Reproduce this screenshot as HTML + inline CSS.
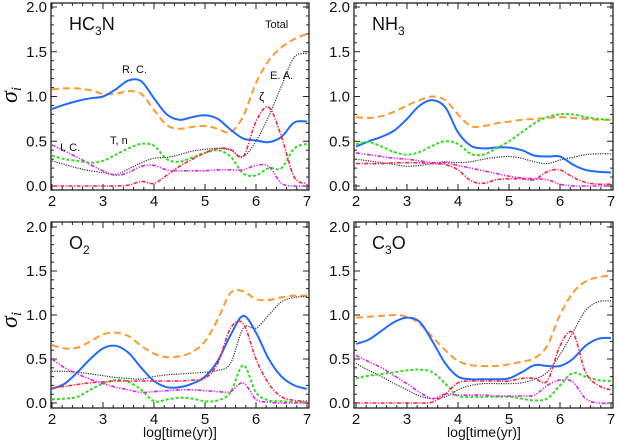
<!DOCTYPE html>
<html><head><meta charset="utf-8"><style>
html,body{margin:0;padding:0;background:#fff;}
svg{display:block;font-family:"Liberation Sans",sans-serif;}
</style></head><body>
<svg id="c" width="618" height="447" viewBox="0 0 618 447" xmlns="http://www.w3.org/2000/svg"></svg>
<script>
const xs = [2,2.25,2.5,2.75,3,3.25,3.5,3.75,4,4.25,4.5,4.75,5,5.25,5.5,5.75,6,6.25,6.5,6.75,7];
const xTicks = [2,3,4,5,6,7];
const yTicks = [0.0,0.5,1.0,1.5,2.0];
const hc3nTotal=[1.08,1.09,1.09,1.07,1.03,1.03,1.06,1.03,0.85,0.68,0.64,0.66,0.67,0.64,0.60,0.78,1.15,1.40,1.55,1.64,1.70];
const hc3nRC=[0.86,0.91,0.95,0.98,1.0,1.08,1.18,1.17,0.98,0.80,0.74,0.77,0.79,0.75,0.63,0.53,0.51,0.49,0.55,0.71,0.72];
const hc3nEA=[0.28,0.24,0.20,0.17,0.15,0.13,0.19,0.26,0.31,0.32,0.35,0.39,0.41,0.42,0.40,0.33,0.50,0.78,1.12,1.44,1.48];
const hc3nZeta=[0,0,0,0,0,0,0.01,0.05,0.03,0.12,0.22,0.30,0.37,0.42,0.41,0.33,0.72,0.88,0.55,0.10,0.03];
const hc3nTn=[0.34,0.30,0.28,0.26,0.28,0.35,0.42,0.47,0.45,0.30,0.27,0.32,0.37,0.40,0.33,0.14,0.12,0.20,0.20,0.42,0.47];
const hc3nIC=[0.46,0.39,0.32,0.24,0.17,0.12,0.15,0.22,0.23,0.18,0.17,0.17,0.17,0.18,0.18,0.18,0.23,0.22,0.03,0.0,0.0];
const nh3Total=[0.77,0.76,0.78,0.83,0.90,0.96,1.00,0.96,0.80,0.67,0.67,0.70,0.72,0.74,0.75,0.76,0.77,0.76,0.75,0.74,0.74];
const nh3RC=[0.44,0.50,0.55,0.62,0.75,0.90,0.96,0.88,0.60,0.45,0.42,0.43,0.43,0.40,0.34,0.33,0.33,0.24,0.18,0.16,0.15];
const nh3EA=[0.30,0.28,0.26,0.24,0.22,0.23,0.25,0.27,0.26,0.27,0.30,0.32,0.33,0.31,0.27,0.25,0.29,0.32,0.35,0.36,0.36];
const nh3Zeta=[0.25,0.25,0.25,0.26,0.26,0.26,0.25,0.24,0.18,0.06,0.03,0.07,0.08,0.08,0.07,0.16,0.18,0.10,0.04,0.02,0.02];
const nh3Tn=[0.47,0.49,0.44,0.38,0.35,0.38,0.45,0.50,0.47,0.36,0.35,0.42,0.50,0.60,0.70,0.77,0.80,0.80,0.77,0.75,0.74];
const nh3IC=[0.37,0.35,0.33,0.31,0.30,0.28,0.26,0.26,0.23,0.20,0.17,0.14,0.11,0.09,0.08,0.07,0.02,0.0,0.0,0.0,0.0];
const o2Total=[0.66,0.62,0.63,0.70,0.78,0.80,0.76,0.65,0.56,0.52,0.53,0.58,0.70,0.95,1.25,1.27,1.18,1.17,1.20,1.22,1.22];
const o2RC=[0.16,0.22,0.35,0.50,0.62,0.65,0.57,0.40,0.25,0.18,0.18,0.22,0.30,0.48,0.77,0.99,0.80,0.50,0.30,0.20,0.16];
const o2EA=[0.36,0.36,0.35,0.33,0.31,0.29,0.28,0.27,0.30,0.32,0.33,0.34,0.35,0.37,0.45,0.85,0.85,1.00,1.15,1.20,1.21];
const o2Zeta=[0.17,0.19,0.21,0.23,0.24,0.25,0.25,0.25,0.25,0.25,0.25,0.26,0.28,0.45,0.85,0.90,0.50,0.22,0.07,0.03,0.02];
const o2Tn=[0.04,0.05,0.07,0.15,0.22,0.26,0.24,0.15,0.02,0.04,0.06,0.05,0.02,0.03,0.12,0.43,0.12,0.03,0.02,0.01,0.01];
const o2IC=[0.50,0.40,0.33,0.27,0.22,0.18,0.15,0.12,0.13,0.14,0.15,0.15,0.14,0.13,0.13,0.23,0.04,0.01,0.0,0.0,0.0];
const c3oTotal=[0.97,0.98,0.99,1.00,0.98,0.90,0.75,0.60,0.48,0.43,0.42,0.42,0.44,0.47,0.51,0.65,1.00,1.25,1.38,1.43,1.45];
const c3oRC=[0.67,0.72,0.82,0.92,0.97,0.92,0.70,0.45,0.30,0.27,0.27,0.27,0.28,0.35,0.43,0.42,0.42,0.50,0.65,0.73,0.74];
const c3oEA=[0.45,0.37,0.30,0.22,0.15,0.08,0.05,0.07,0.15,0.20,0.22,0.22,0.22,0.23,0.27,0.35,0.55,0.80,1.05,1.15,1.16];
const c3oZeta=[0,0,0,0,0,0,0.01,0.10,0.23,0.25,0.25,0.25,0.25,0.28,0.28,0.25,0.65,0.80,0.35,0.20,0.15];
const c3oTn=[0.28,0.31,0.33,0.35,0.37,0.38,0.35,0.22,0.08,0.07,0.07,0.07,0.07,0.05,0.03,0.05,0.20,0.34,0.30,0.26,0.25];
const c3oIC=[0.54,0.47,0.40,0.31,0.22,0.12,0.05,0.10,0.09,0.09,0.09,0.08,0.08,0.08,0.09,0.20,0.26,0.24,0.05,0.0,0.0];

const NS="http://www.w3.org/2000/svg";
const svg=document.getElementById('c');
function mk(tag,attrs,parent){const e=document.createElementNS(NS,tag);for(const k in attrs)e.setAttribute(k,attrs[k]);(parent||svg).appendChild(e);return e;}
const styles={
 total:{stroke:'#ff9a2e',w:2,dash:'7,4'},
 rc:{stroke:'#1f6bff',w:2,dash:''},
 ea:{stroke:'#333',w:1.2,dash:'1.2,1.2'},
 zeta:{stroke:'#ff2244',w:1.6,dash:'4,1.5,1.2,1.5'},
 tn:{stroke:'#33dd22',w:2,dash:'3,2'},
 ic:{stroke:'#dd22ee',w:1.6,dash:'4,1.5,1.2,1.5,1.2,1.5'}
};
const panels=[
 {name:'hc3n',label:'HC',sub:'3',tail:'N',x0:51,x1:309,ytop:3,ybot:190,y2:7,y0:186,xl:true,series:{total:hc3nTotal,rc:hc3nRC,ea:hc3nEA,zeta:hc3nZeta,tn:hc3nTn,ic:hc3nIC}},
 {name:'nh3',label:'NH',sub:'3',tail:'',x0:354,x1:613,ytop:3,ybot:190,y2:7,y0:186,xl:false,series:{total:nh3Total,rc:nh3RC,ea:nh3EA,zeta:nh3Zeta,tn:nh3Tn,ic:nh3IC}},
 {name:'o2',label:'O',sub:'2',tail:'',x0:51,x1:309,ytop:222,ybot:408,y2:227,y0:403,xl:true,series:{total:o2Total,rc:o2RC,ea:o2EA,zeta:o2Zeta,tn:o2Tn,ic:o2IC}},
 {name:'c3o',label:'C',sub:'3',tail:'O',x0:354,x1:613,ytop:222,ybot:408,y2:227,y0:403,xl:false,series:{total:c3oTotal,rc:c3oRC,ea:c3oEA,zeta:c3oZeta,tn:c3oTn,ic:c3oIC}}
];
function pathFrom(pts){let d='M'+pts[0][0].toFixed(1)+','+pts[0][1].toFixed(1);
 for(let i=0;i<pts.length-1;i++){const p0=pts[Math.max(0,i-1)],p1=pts[i],p2=pts[i+1],p3=pts[Math.min(pts.length-1,i+2)];
  const c1=[p1[0]+(p2[0]-p0[0])/6,p1[1]+(p2[1]-p0[1])/6],c2=[p2[0]-(p3[0]-p1[0])/6,p2[1]-(p3[1]-p1[1])/6];
  d+='C'+c1[0].toFixed(1)+','+c1[1].toFixed(1)+' '+c2[0].toFixed(1)+','+c2[1].toFixed(1)+' '+p2[0].toFixed(1)+','+p2[1].toFixed(1);}
 return d;}
panels.forEach((p,pi)=>{
 const xpx=p.xl?52:356, unit=51;
 const X=v=>xpx+(v-2)*unit;
 const Y=v=>p.y0-(v)*(p.y0-p.y2)/2;
 const g=mk('g',{});
 
 
 const cid='clip'+pi;
 const cp=mk('clipPath',{id:cid},g);mk('rect',{x:p.x0,y:p.ytop,width:p.x1-p.x0,height:p.ybot-p.ytop},cp);
 const fr=mk('rect',{x:p.x0,y:p.ytop,width:p.x1-p.x0,height:p.ybot-p.ytop,fill:'none',stroke:'#222','stroke-width':1.3},g);
 
 
 for(let v=0;v<=2.0001;v+=0.1){const y=Y(v);const major=Math.abs(v*2-Math.round(v*2))<1e-6;const L=major?6:3;
  mk('line',{x1:p.x0,x2:p.x0+L,y1:y,y2:y,stroke:'#222','stroke-width':1},g);
  mk('line',{x1:p.x1,x2:p.x1-L,y1:y,y2:y,stroke:'#222','stroke-width':1},g);}
 for(let v=2;v<=7.0001;v+=0.2){const x=X(v);const major=Math.abs(v-Math.round(v))<1e-6;const L=major?6:3;
  mk('line',{x1:x,x2:x,y1:p.ybot,y2:p.ybot-L,stroke:'#222','stroke-width':1},g);
  mk('line',{x1:x,x2:x,y1:p.ytop,y2:p.ytop+L,stroke:'#222','stroke-width':1},g);}
 yTicks.forEach(v=>{const t=mk('text',{x:p.x0-4,y:Y(v)+5,'text-anchor':'end','font-size':15,fill:'#111'},g);t.textContent=v.toFixed(1);
  
  });
 xTicks.forEach(v=>{const t=mk('text',{x:X(v),y:p.ybot+16,'text-anchor':'middle','font-size':15,fill:'#111'},g);t.textContent=v;
  
  });
 const lab=mk('text',{x:p.x0+18,y:p.ytop+27,'font-size':18,fill:'#111'},g);
 
 
 lab.appendChild(document.createTextNode(p.label));
 const ts=mk('tspan',{'font-size':12,dy:5},lab);ts.textContent=p.sub;
 if(p.tail){const t2=mk('tspan',{dy:-5},lab);t2.textContent=p.tail;}
 const sg=mk('g',{'clip-path':'url(#'+cid+')'},g);
 ['total','ea','rc','tn','zeta','ic'].forEach(k=>{const s=styles[k];const arr=p.series[k];
  const pts=arr.map((v,i)=>[X(xs[i]),Y(v)]);
  const path=mk('path',{d:pathFrom(pts),fill:'none',stroke:s.stroke,'stroke-width':s.w,'stroke-dasharray':s.dash},sg);
  
  });
});
function txt(x,y,s,size,name,extra){const t=mk('text',Object.assign({x:x,y:y,'font-size':size,fill:'#111'},extra||{}));t.textContent=s;
 
 return t;}
txt(265,28,'Total',11,'annotation-total');
txt(122,73,'R. C.',11,'annotation-rc');
txt(270,79,'E. A.',11,'annotation-ea');
txt(259,101,'ζ',12,'annotation-zeta');
txt(110,144,'T, n',11,'annotation-tn');
txt(60,151,'I. C.',11,'annotation-ic');
txt(180,437,'log[time(yr)]',14,'x-axis-title-left',{'text-anchor':'middle'});
txt(484,437,'log[time(yr)]',14,'x-axis-title-right',{'text-anchor':'middle'});
[[17,95],[17,320]].forEach((c,i)=>{const t=mk('text',{x:c[0],y:c[1],'font-size':24,'font-family':'Liberation Serif,serif','font-style':'italic',fill:'#111','text-anchor':'middle',transform:'rotate(-90 '+c[0]+' '+c[1]+')'});
 
 
 t.appendChild(document.createTextNode('σ'));const s=mk('tspan',{'font-size':15,dy:4},t);s.textContent='i';});
</script>
</body></html>
